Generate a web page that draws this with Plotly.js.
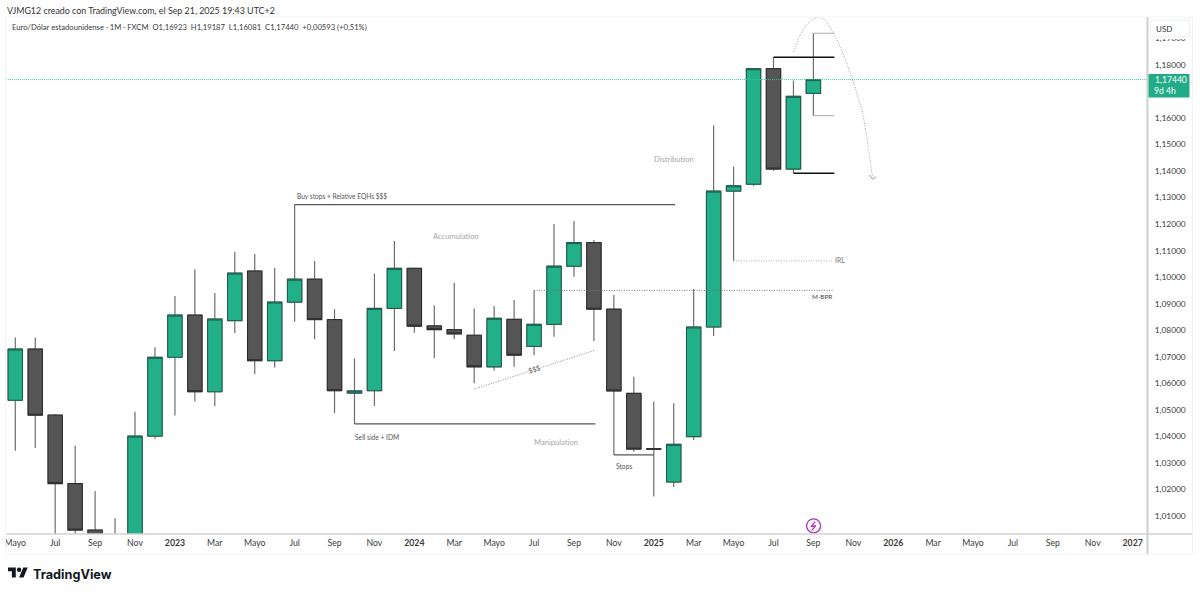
<!DOCTYPE html>
<html><head><meta charset="utf-8">
<script src="https://cdn.plot.ly/plotly-3.0.1.min.js"></script>
<style>html,body{margin:0;padding:0;background:#fff;overflow:hidden}#c{position:absolute;left:0;top:0;width:1200px;height:594px}#logo{position:absolute;left:8px;top:565px;width:20px;height:16px}</style>
</head><body><div id="c"></div>
<svg id="logo" viewBox="0 0 36 28"><path fill="#131722" d="M14 22H7V11H0V4h14v18zM28 22h-8l7.5-18h8L28 22z"/><circle fill="#131722" cx="20" cy="8" r="4"/></svg>
<script>
const monthPos=[0,1,2,3,4,5,6,7,8,9,10,11,12,13,14,15,16,17,18,19,20,21,22,23,24,25,26,27,28,29,30,31,32,33,34,35,36,37,38,39,40];
const opens=[1.0536,1.0729,1.0480,1.0222,1.0047,0.9802,0.9885,1.0401,1.0698,1.0857,1.0568,1.0836,1.1023,1.0685,1.0906,1.0992,1.0840,1.0563,1.0572,1.0882,1.1033,1.0816,1.0802,1.0781,1.0662,1.0841,1.0739,1.0822,1.1041,1.1130,1.0879,1.0562,1.0353,1.0228,1.0399,1.0812,1.1324,1.1350,1.1785,1.1407,1.16923];
const highs=[1.0772,1.0772,1.0484,1.0365,1.0194,1.0092,1.0493,1.0736,1.0929,1.1030,1.0940,1.1095,1.1087,1.1034,1.1273,1.1061,1.0879,1.0693,1.1014,1.1136,1.1036,1.0894,1.0978,1.0882,1.0891,1.0914,1.0950,1.1200,1.1211,1.1140,1.0933,1.0625,1.0531,1.0525,1.0955,1.1572,1.1416,1.1788,1.1828,1.1741,1.19187];
const lows=[1.0346,1.0356,0.9952,0.9900,0.9535,0.9632,0.9730,1.0391,1.0479,1.0531,1.0514,1.0789,1.0635,1.0659,1.0832,1.0766,1.0487,1.0447,1.0514,1.0722,1.0790,1.0694,1.0766,1.0600,1.0647,1.0662,1.0706,1.0775,1.1001,1.0759,1.0330,1.0342,1.0173,1.0209,1.0386,1.0778,1.1061,1.1343,1.1401,1.1391,1.16081];
const closes=[1.0729,1.0480,1.0222,1.0047,0.9802,0.9885,1.0401,1.0698,1.0857,1.0568,1.0842,1.1015,1.0685,1.0906,1.0992,1.0840,1.0572,1.0571,1.0882,1.1033,1.0815,1.0802,1.0786,1.0662,1.0845,1.0706,1.0822,1.1041,1.1130,1.0879,1.0571,1.0352,1.0352,1.0370,1.0812,1.1324,1.1344,1.1785,1.1407,1.1681,1.17440];
const tickPos=[0,2,4,6,8,10,12,14,16,18,20,22,24,26,28,30,32,34,36,38,40,42,44,46,48,50,52,54,56];
const tickLabels=["Mayo","Jul","Sep","Nov","<b>2023</b>","Mar","Mayo","Jul","Sep","Nov","<b>2024</b>","Mar","Mayo","Jul","Sep","Nov","<b>2025</b>","Mar","Mayo","Jul","Sep","Nov","<b>2026</b>","Mar","Mayo","Jul","Sep","Nov","<b>2027</b>"];
const priceTicks=[1.01,1.02,1.03,1.04,1.05,1.06,1.07,1.08,1.09,1.10,1.11,1.12,1.13,1.14,1.15,1.16,1.18,1.19];
const priceLabels=["1,01000","1,02000","1,03000","1,04000","1,05000","1,06000","1,07000","1,08000","1,09000","1,10000","1,11000","1,12000","1,13000","1,14000","1,15000","1,16000","1,18000","1,19000"];
const lastClose=1.1744;
const curveX=[39.01,39.31,39.66,39.96,40.27,40.62,41.02,41.47,41.97,42.47,42.72,42.97];
const curveY=[1.1850,1.1908,1.1950,1.1970,1.1980,1.1965,1.1919,1.1844,1.1742,1.1618,1.1505,1.1373];
const boltX=[40.09,39.89,40.12,39.91];
const boltY=[1.0079,1.0060,1.0064,1.0045];

const W=1200,H=594,L=6,R=1147.5,T=17,B=534;
const GREEN='#22b088',DARK='#555555',FONT='Lato, sans-serif',FINE='1px,1.5px';
const px=x=>(x-L)/(R-L), py=y=>(B-y)/(B-T);
const bodyHi=opens.map((o,i)=>Math.max(o,closes[i])), bodyLo=opens.map((o,i)=>Math.min(o,closes[i]));

const wicks={type:'candlestick',x:monthPos,open:opens,high:highs,low:lows,close:closes,whiskerwidth:0,
 increasing:{line:{color:'#6e6e6e',width:1.2},fillcolor:GREEN},decreasing:{line:{color:'#6e6e6e',width:1.2},fillcolor:DARK},hoverinfo:'skip'};
const bodies={type:'candlestick',x:monthPos,open:opens,high:bodyHi,low:bodyLo,close:closes,whiskerwidth:0,
 increasing:{line:{color:'#1d5a4e',width:1},fillcolor:GREEN},decreasing:{line:{color:'#2b2b2b',width:1},fillcolor:DARK},hoverinfo:'skip'};
const curve={type:'scatter',mode:'lines',x:curveX,y:curveY,line:{color:'#a0a0a0',width:1,dash:FINE,shape:'spline',smoothing:0.6},hoverinfo:'skip'};
const ring={type:'scatter',mode:'markers',x:[40.01],y:[1.0063],marker:{symbol:'circle-open',size:14,color:'#b02fc4',line:{width:1.3,color:'#b02fc4'}},hoverinfo:'skip'};
const bolt={type:'scatter',mode:'lines',x:boltX,y:boltY,line:{color:'#b02fc4',width:1.2},hoverinfo:'skip'};

const line=(x0,y0,x1,y1,color,width,dash)=>({type:'line',xref:'x',yref:'y',x0,y0,x1,y1,line:{color,width,dash:dash||'solid'}});
const pline=(x0,y0,x1,y1,color,width)=>({type:'line',xref:'paper',yref:'paper',x0:px(x0),y0:py(y0),x1:px(x1),y1:py(y1),line:{color,width},layer:'above'});
const prect=(x0,y0,x1,y1,fill,lc)=>({type:'rect',xref:'paper',yref:'paper',x0:px(x0),y0:py(y0),x1:px(x1),y1:py(y1),fillcolor:fill,line:{color:lc||fill,width:lc?1:0},layer:'above'});

const shapes=[
 line(-0.47,lastClose,56.72,lastClose,'#1fd0a6',1,'1px,1px'),
 line(14,1.1273,33.07,1.1273,'#555',1.2),
 line(17,1.0447,29.07,1.0447,'#555',1.2),
 line(30,1.0330,32,1.0330,'#555',1.2),
 line(36,1.1061,40.95,1.1061,'#a8a8a8',1,FINE),
 line(26,1.0950,41,1.0950,'#777',1,FINE),
 line(38,1.1828,41.05,1.1828,'#111',1.5),
 line(39,1.1391,41.05,1.1391,'#111',1.5),
 line(40,1.19187,41.05,1.19187,'#aaa',1),
 line(40,1.16081,41.05,1.16081,'#aaa',1),
 line(23,1.0578,29.07,1.0725,'#8c8c8c',1,FINE),
 line(42.8,1.1385,42.98,1.1368,'#a0a0a0',1),
 line(43.15,1.1378,42.98,1.1368,'#a0a0a0',1),
 prect(0,0,6.5,B,'#ffffff'),
 prect(5.5,T,1193,554,'rgba(0,0,0,0)','#f0f3fa'),
 pline(1148,T,1148,554,'#cfcfcf',2),
 pline(6,534,1193,534,'#d2d2d2',1.5),
 prect(1150,19,1191,39,'#ffffff'),
 prect(1151,20,1190,37,'#ffffff','#eceef2'),
 prect(1149,74,1190,97.5,'#22ab87')
];
const ptxt=(x,y,text,size,color,anchor,fam,extra)=>Object.assign({xref:'paper',yref:'paper',x:px(x),y:py(y),text,showarrow:false,xanchor:anchor||'left',yanchor:'middle',font:{family:fam||FONT,size,color},borderpad:0},extra||{});
const dtxt=(x,y,text,size,color,anchor,extra)=>Object.assign({xref:'x',yref:'y',x,y,text,showarrow:false,xanchor:anchor||'center',yanchor:'middle',font:{family:FONT,size,color},borderpad:0},extra||{});

const annotations=[
 ptxt(6.5,10,'VJMG12 creado con TradingView.com, el Sep 21, 2025 19:43 UTC+2',8.9,'#333'),
 ptxt(11.5,27.5,'Euro/Dólar estadounidense · 1M · FXCM&nbsp;&nbsp;O1,16923&nbsp;&nbsp;H1,19187&nbsp;&nbsp;L1,16081&nbsp;&nbsp;C1,17440&nbsp;&nbsp;+0,00593 (+0,51%)',7.65,'#3a3a3a'),
 ptxt(1156,29,'USD',8,'#333'),
 ptxt(1154.5,79.8,'1,17440',8.6,'#ffffff'),
 ptxt(1154,91.2,'9d 4h',8.6,'#ffffff'),
 ptxt(32,574.5,'<b>TradingView</b>',12.7,'#131722','left','Inter, sans-serif'),
 dtxt(33,1.1445,'Distribution',7.6,'#a6a6a6'),
 dtxt(22.1,1.1156,'Accumulation',7.6,'#a6a6a6'),
 dtxt(27.1,1.0378,'Manipulation',7.6,'#a6a6a6'),
 dtxt(14.05,1.1307,'Buy stops + Relative EQHs $$$',6.6,'#555','left'),
 dtxt(17,1.0397,'Sell side + IDM',6.7,'#555','left'),
 dtxt(30.05,1.0290,'Stops',6.7,'#555','left'),
 dtxt(41.05,1.1064,'IRL',6.9,'#777','left'),
 dtxt(41,1.0928,'M-BPR',6.4,'#444','right'),
 dtxt(26.02,1.0653,'$$$',7.2,'#555','center',{textangle:-18,bgcolor:'#ffffff'})
];

const layout={width:W,height:H,margin:{l:L,r:W-R,t:T,b:H-B,pad:0},paper_bgcolor:'#fff',plot_bgcolor:'#fff',showlegend:false,hovermode:false,
 boxgap:0.28,boxgroupgap:0,boxmode:'overlay',
 xaxis:{type:'linear',range:[-0.466,56.72],tickmode:'array',tickvals:tickPos,ticktext:tickLabels,showgrid:false,zeroline:false,showline:false,ticks:'outside',ticklen:1,tickcolor:'rgba(0,0,0,0)',tickfont:{family:FONT,size:8.7,color:'#3a3a3a'},rangeslider:{visible:false},fixedrange:true},
 yaxis:{type:'linear',side:'right',range:[1.00322,1.19798],tickmode:'array',tickvals:priceTicks,ticktext:priceLabels,showgrid:false,zeroline:false,showline:false,ticks:'outside',ticklen:5,tickcolor:'rgba(0,0,0,0)',tickfont:{family:FONT,size:8.4,color:'#3a3a3a'},fixedrange:true},
 shapes,annotations};
Plotly.newPlot('c',[wicks,bodies,curve,ring,bolt],layout,{displayModeBar:false,staticPlot:true});
</script></body></html>
